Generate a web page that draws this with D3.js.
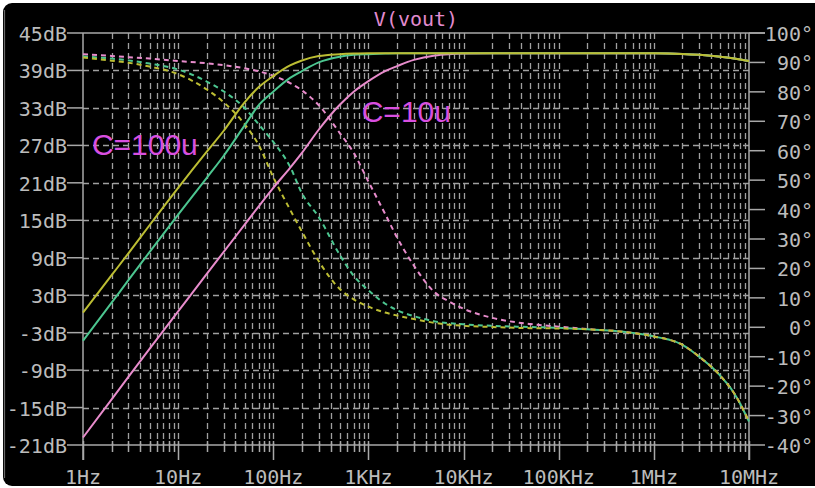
<!DOCTYPE html>
<html>
<head>
<meta charset="utf-8">
<script src="https://cdn.jsdelivr.net/npm/d3@7"></script>
<style>
  html, body { margin: 0; padding: 0; background: #ffffff; }
  svg { display: block; }
</style>
</head>
<body>
<svg id="chart" width="815" height="488"></svg>
<script>
// Frequency points of the AC sweep (Hz)
const freqs = [1, 2, 3, 5, 10, 20, 30, 50, 70, 100, 150, 200, 300, 500, 700,
  1e3, 1.5e3, 2e3, 3e3, 5e3, 7e3, 1e4, 2e4, 5e4, 1e5, 2e5, 5e5,
  1e6, 2e6, 3e6, 5e6, 7e6, 1e7];

// Magnitude of V(vout) in dB, one array per stepped capacitor value
const magStep1 = [0.2, 6.2, 9.7, 14.2, 20.2, 26.0, 29.3, 33.9, 36.3, 38.1, 39.8, 40.6, 41.3, 41.6, 41.7,
  41.75, 41.75, 41.75, 41.75, 41.75, 41.75, 41.75, 41.75, 41.75, 41.75, 41.75, 41.75,
  41.75, 41.65, 41.5, 41.2, 40.9, 40.5];
const magStep2 = [-4.3, 1.8, 5.4, 9.9, 15.9, 21.8, 25.3, 30.2, 33.4, 35.6, 37.8, 38.9, 40.3, 41.2, 41.5,
  41.6, 41.7, 41.75, 41.75, 41.75, 41.75, 41.75, 41.75, 41.75, 41.75, 41.75, 41.75,
  41.75, 41.65, 41.5, 41.2, 40.9, 40.5];
const magStep3 = [-19.8, -13.7, -10.1, -5.6, 0.4, 6.4, 9.9, 14.3, 17.2, 20.2, 23.4, 25.8, 29.5, 33.5, 35.6,
  37.3, 38.9, 39.7, 40.7, 41.4, 41.6, 41.7, 41.75, 41.75, 41.75, 41.75, 41.75,
  41.75, 41.65, 41.5, 41.2, 40.9, 40.5];

// Phase of V(vout) in degrees
const phaseStep1 = [91.7, 90.6, 89.9, 88.6, 86.0, 80.8, 76.5, 69.0, 62.0, 51.0, 40.0, 32.5, 22.5, 13.0, 9.5,
  7.0, 5.0, 4.0, 2.8, 1.5, 0.9, 0.5, 0.1, -0.3, -0.4, -0.7, -1.6,
  -3.1, -6.0, -10.0, -16.5, -22.5, -32.0];
const phaseStep2 = [92.0, 91.3, 90.7, 89.6, 87.6, 83.5, 80.2, 74.5, 69.0, 63.0, 54.6, 45.5, 37.5, 24.6, 17.5,
  12.6, 8.0, 5.8, 3.8, 2.0, 1.4, 1.0, 0.5, 0.1, -0.2, -0.7, -1.6,
  -3.1, -6.0, -10.0, -16.5, -22.5, -32.0];
const phaseStep3 = [92.8, 92.2, 91.8, 91.3, 90.5, 89.7, 89.1, 88.0, 87.0, 85.5, 83.0, 80.5, 75.5, 66.0, 59.3,
  49.5, 38.5, 30.5, 21.0, 11.8, 8.8, 6.3, 3.2, 1.1, 0.2, -0.6, -1.6,
  -3.1, -6.0, -10.0, -16.5, -22.5, -32.0];

// Axis ticks and labels
const dbTicks = [45, 39, 33, 27, 21, 15, 9, 3, -3, -9, -15, -21];
const degTicks = [100, 90, 80, 70, 60, 50, 40, 30, 20, 10, 0, -10, -20, -30, -40];
const decadeFreqs = [1, 10, 100, 1e3, 1e4, 1e5, 1e6, 1e7];
const decadeLabels = ["1Hz", "10Hz", "100Hz", "1KHz", "10KHz", "100KHz", "1MHz", "10MHz"];
const traceLabels = [
  { text: "C=100u", f: 1.24, db: 25.45 },
  { text: "C=10u", f: 850, db: 30.8 }
];
const plotTitle = "V(vout)";

// Layout
const L = 83, R = 749, T = 33, B = 445;
const svg = d3.select("#chart");

const x = d3.scaleLog().domain([1, 1e7]).range([L, R]);
const yDb = d3.scaleLinear().domain([-21, 45]).range([B, T]);
const yDeg = d3.scaleLinear().domain([-40, 100]).range([B, T]);

const axisColor = "#a8a8a8";
const textColor = "#bcbcbc";
const gridColor = "#a0a0a0";
const monoFont = "'DejaVu Sans Mono', 'Liberation Mono', monospace";

const colors = { step1: "#bcbd33", step2: "#4cc690", step3: "#e88ccc" };

// Black panel
svg.append("rect")
  .attr("x", 3).attr("y", 3).attr("width", 830).attr("height", 483)
  .attr("rx", 9).attr("fill", "#000000");
svg.append("line")
  .attr("x1", 4.5).attr("x2", 4.5).attr("y1", 10).attr("y2", 478)
  .attr("stroke", "#6a6a6a").attr("stroke-width", 1.2);

// Vertical grid at every 1..9 x decade
const minorFreqs = [];
for (let d = 0; d < 7; d++) {
  for (let m = 1; m <= 9; m++) minorFreqs.push(m * Math.pow(10, d));
}
minorFreqs.push(1e7);
const gridFreqs = minorFreqs.filter(f => f > 1 && f < 1e7);

const grid = svg.append("g");
grid.selectAll("line.v").data(gridFreqs).join("line")
  .attr("class", "v")
  .attr("x1", d => Math.round(x(d)) + 0.5).attr("x2", d => Math.round(x(d)) + 0.5)
  .attr("y1", T).attr("y2", B)
  .attr("stroke", gridColor).attr("stroke-width", 1.3)
  .attr("stroke-dasharray", "6,4");
grid.selectAll("line.h").data(dbTicks.filter(v => v !== 45 && v !== -21)).join("line")
  .attr("class", "h")
  .attr("x1", L).attr("x2", R)
  .attr("y1", d => Math.round(yDb(d)) + 0.5).attr("y2", d => Math.round(yDb(d)) + 0.5)
  .attr("stroke", gridColor).attr("stroke-width", 1.3)
  .attr("stroke-dasharray", "6,4");

// Axes
const axes = svg.append("g").attr("stroke", axisColor).attr("stroke-width", 1.5);
axes.append("line").attr("x1", L).attr("x2", R + 16).attr("y1", T).attr("y2", T);
axes.append("line").attr("x1", L).attr("x2", R).attr("y1", B).attr("y2", B);
axes.append("line").attr("x1", L).attr("x2", L).attr("y1", T).attr("y2", B + 15);
axes.append("line").attr("x1", R).attr("x2", R).attr("y1", T).attr("y2", B + 15);

// Left dB ticks
axes.selectAll("line.ldb").data(dbTicks).join("line")
  .attr("class", "ldb")
  .attr("x1", L - 16).attr("x2", L)
  .attr("y1", d => yDb(d)).attr("y2", d => yDb(d));
// Right degree ticks
axes.selectAll("line.rdeg").data(degTicks).join("line")
  .attr("class", "rdeg")
  .attr("x1", R).attr("x2", R + 16)
  .attr("y1", d => yDeg(d)).attr("y2", d => yDeg(d));
// Bottom ticks: short for minor, long for decades
const isDecade = f => decadeFreqs.includes(f);
axes.selectAll("line.bt").data(minorFreqs).join("line")
  .attr("class", "bt")
  .attr("x1", d => Math.round(x(d)) + 0.5).attr("x2", d => Math.round(x(d)) + 0.5)
  .attr("y1", B - 4)
  .attr("y2", d => isDecade(d) ? B + 15 : B + 7);

// Tick labels
const labels = svg.append("g")
  .attr("fill", textColor)
  .attr("font-family", monoFont)
  .attr("font-size", 20);
labels.selectAll("text.ldb").data(dbTicks).join("text")
  .attr("class", "ldb")
  .attr("x", L - 16).attr("y", d => yDb(d) + 8)
  .attr("text-anchor", "end")
  .text(d => d + "dB");
labels.selectAll("text.rdeg").data(degTicks).join("text")
  .attr("class", "rdeg")
  .attr("x", 813).attr("y", d => yDeg(d) + 8)
  .attr("text-anchor", "end")
  .text(d => d + "°");
labels.selectAll("text.bx").data(decadeFreqs).join("text")
  .attr("class", "bx")
  .attr("x", d => x(d)).attr("y", 484)
  .attr("text-anchor", "middle")
  .text((d, i) => decadeLabels[i]);

// Title
svg.append("text")
  .attr("x", (L + R) / 2).attr("y", 26)
  .attr("text-anchor", "middle")
  .attr("font-family", monoFont).attr("font-size", 20)
  .attr("fill", "#e28bcf")
  .text(plotTitle);

// Traces
const series = [
  { key: "step3", mag: magStep3, phase: phaseStep3 },
  { key: "step2", mag: magStep2, phase: phaseStep2 },
  { key: "step1", mag: magStep1, phase: phaseStep1 }
];
const magLine = d3.line().x(d => x(d[0])).y(d => yDb(d[1])).curve(d3.curveMonotoneX);
const phaseLine = d3.line().x(d => x(d[0])).y(d => yDeg(d[1])).curve(d3.curveMonotoneX);

const traces = svg.append("g").attr("fill", "none");
series.forEach(s => {
  traces.append("path")
    .datum(freqs.map((f, i) => [f, s.phase[i]]))
    .attr("d", phaseLine)
    .attr("stroke", colors[s.key]).attr("stroke-width", 2)
    .attr("stroke-dasharray", "5,4");
});
series.forEach(s => {
  traces.append("path")
    .datum(freqs.map((f, i) => [f, s.mag[i]]))
    .attr("d", magLine)
    .attr("stroke", colors[s.key]).attr("stroke-width", 2);
});

// Trace annotations
svg.append("g")
  .attr("font-family", "'Liberation Sans', Arial, sans-serif")
  .attr("font-size", 30)
  .attr("fill", "#d94fe0")
  .selectAll("text").data(traceLabels).join("text")
  .attr("x", d => x(d.f)).attr("y", d => yDb(d.db))
  .text(d => d.text);
</script>
</body>
</html>
